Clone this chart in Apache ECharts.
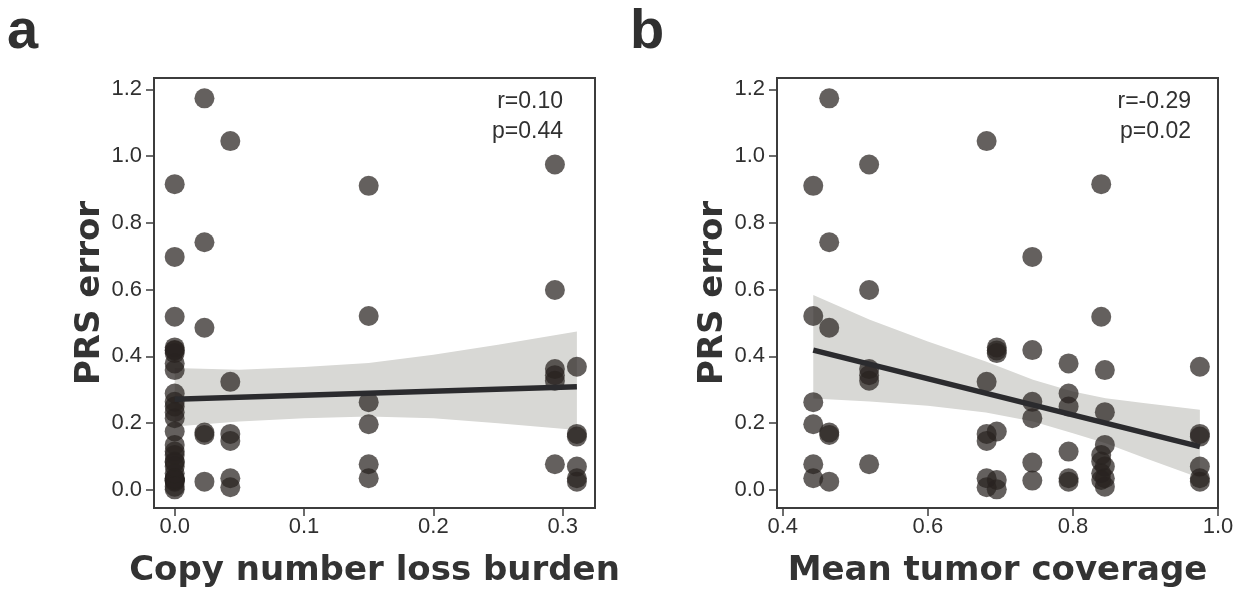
<!DOCTYPE html>
<html><head><meta charset="utf-8">
<script src="https://cdn.jsdelivr.net/npm/echarts@6/dist/echarts.min.js"></script>
<style>html,body{margin:0;padding:0;background:#fff}#c{width:1239px;height:594px}</style>
</head><body><div id="c"></div>
<script>
// ---- data ----
const patientCnlBurden = [0.150, 0.023, 0.294, 0.043, 0.311, 0.0, 0.0, 0.0, 0.0, 0.0];
const patientCoverage  = [0.442, 0.464, 0.519, 0.681, 0.975, 0.695, 0.744, 0.794, 0.839, 0.844];
const patientPrsError = [
  [0.911, 0.521, 0.263, 0.197, 0.077, 0.035],
  [1.173, 0.742, 0.486, 0.172, 0.165, 0.025],
  [0.975, 0.599, 0.362, 0.344, 0.327, 0.077],
  [1.045, 0.324, 0.168, 0.147, 0.035, 0.008],
  [0.369, 0.168, 0.160, 0.070, 0.035, 0.025],
  [0.427, 0.418, 0.410, 0.175, 0.030, 0.002],
  [0.698, 0.419, 0.264, 0.215, 0.082, 0.028],
  [0.379, 0.289, 0.250, 0.115, 0.035, 0.025],
  [0.916, 0.519, 0.105, 0.085, 0.050, 0.030],
  [0.359, 0.233, 0.135, 0.070, 0.035, 0.010]
];
const fitAX = [0, 0.311];
const fitAY = [0.272, 0.309];
const bandAX = [0, 0.05, 0.1, 0.15, 0.2, 0.25, 0.311];
const bandAUpper = [0.365, 0.360, 0.368, 0.380, 0.405, 0.435, 0.475];
const bandALower = [0.190, 0.205, 0.215, 0.220, 0.215, 0.200, 0.180];
const fitBX = [0.442, 0.975];
const fitBY = [0.419, 0.130];
const bandBX = [0.442, 0.52, 0.6, 0.68, 0.745, 0.8, 0.845, 0.9, 0.975];
const bandBUpper = [0.584, 0.510, 0.445, 0.385, 0.330, 0.295, 0.275, 0.260, 0.240];
const bandBLower = [0.274, 0.265, 0.252, 0.232, 0.205, 0.170, 0.140, 0.095, 0.036];
const yTicks = [0, 0.2, 0.4, 0.6, 0.8, 1.0, 1.2];
const aTicks = [0, 0.1, 0.2, 0.3];
const bTicks = [0.4, 0.6, 0.8, 1.0];
const statsA = ['r=0.10', 'p=0.44'];
const statsB = ['r=-0.29', 'p=0.02'];
const xNameA = 'Copy number loss burden';
const xNameB = 'Mean tumor coverage';
const yName = 'PRS error';

// ---- build ----
const ptsA = [], ptsB = [];
patientPrsError.forEach((arr, i) => arr.forEach(v => {
  ptsA.push([patientCnlBurden[i], v]);
  ptsB.push([patientCoverage[i], v]);
}));

const TXT = '#303030';
const FRAME = '#3c3c3c';
const tickFont = 'Liberation Sans';
const titleStyle = {fontFamily: 'DejaVu Sans', fontWeight: 'bold', fontSize: 34, color: '#333'};

function xAxisCfg(gi, min, max, ticks, name) {
  return {
    type: 'value', gridIndex: gi, min: min, max: max, name: name,
    nameLocation: 'middle', nameGap: 46, nameTextStyle: titleStyle,
    axisLine: {show: true, onZero: false, lineStyle: {color: FRAME, width: 2}},
    axisTick: {show: true, length: 8, customValues: ticks, lineStyle: {color: FRAME, width: 1.5}},
    axisLabel: {customValues: ticks, formatter: v => (+v).toFixed(1), fontSize: 22, color: TXT, fontFamily: tickFont, margin: 8},
    splitLine: {show: false}
  };
}
function yAxisCfg(gi) {
  return {
    type: 'value', gridIndex: gi, min: -0.054, max: 1.234, name: yName,
    nameLocation: 'middle', nameGap: 42, nameTextStyle: titleStyle,
    axisLine: {show: true, onZero: false, lineStyle: {color: FRAME, width: 2}},
    axisTick: {show: true, length: 8, customValues: yTicks, lineStyle: {color: FRAME, width: 1.5}},
    axisLabel: {customValues: yTicks, formatter: v => (+v).toFixed(1), fontSize: 22, color: TXT, fontFamily: tickFont, margin: 12},
    splitLine: {show: false}
  };
}
function bandSeries(xs, up, lo, gi) {
  return {
    type: 'custom', xAxisIndex: gi, yAxisIndex: gi, silent: true, z: 1,
    data: xs.map((x, i) => [x, up[i], lo[i]]),
    encode: {x: 0, y: [1, 2]},
    renderItem: function (params, api) {
      if (params.dataIndex !== 0) return null;
      const pts = [];
      for (let i = 0; i < xs.length; i++) pts.push(api.coord([xs[i], up[i]]));
      for (let i = xs.length - 1; i >= 0; i--) pts.push(api.coord([xs[i], lo[i]]));
      return {type: 'polygon', shape: {points: pts}, style: {fill: '#d8d8d5'}};
    }
  };
}
function scatterSeries(pts, gi) {
  return {type: 'scatter', xAxisIndex: gi, yAxisIndex: gi, data: pts, symbolSize: 20, z: 2,
    itemStyle: {color: 'rgba(40,34,32,0.9)'}, silent: true};
}
function fitSeries(xs, ys, gi) {
  return {type: 'line', xAxisIndex: gi, yAxisIndex: gi, data: xs.map((x, i) => [x, ys[i]]),
    showSymbol: false, symbol: 'none', z: 3, silent: true,
    lineStyle: {color: '#2b2b2e', width: 5.5, cap: 'butt'}};
}
function txt(x, y, s, font, align) {
  return {type: 'text', x: x, y: y, silent: true,
    style: {text: s, fill: TXT, font: font, align: align, verticalAlign: 'middle'}};
}

const chart = echarts.init(document.getElementById('c'), null, {renderer: 'canvas'});
chart.setOption({
  animation: false,
  backgroundColor: '#ffffff',
  grid: [
    {left: 154, top: 78, width: 441, height: 430, show: true, borderColor: FRAME, borderWidth: 2, containLabel: false},
    {left: 777, top: 78, width: 441, height: 430, show: true, borderColor: FRAME, borderWidth: 2, containLabel: false}
  ],
  xAxis: [xAxisCfg(0, -0.016, 0.325, aTicks, xNameA), xAxisCfg(1, 0.392, 1.0, bTicks, xNameB)],
  yAxis: [yAxisCfg(0), yAxisCfg(1)],
  series: [
    bandSeries(bandAX, bandAUpper, bandALower, 0),
    scatterSeries(ptsA, 0),
    fitSeries(fitAX, fitAY, 0),
    bandSeries(bandBX, bandBUpper, bandBLower, 1),
    scatterSeries(ptsB, 1),
    fitSeries(fitBX, fitBY, 1)
  ],
  graphic: [
    txt(7, 33, 'a', 'bold 56px "Liberation Sans"', 'left'),
    txt(630, 33, 'b', 'bold 56px "Liberation Sans"', 'left'),
    txt(563, 102, statsA[0], '23px "Liberation Sans"', 'right'),
    txt(563, 132, statsA[1], '23px "Liberation Sans"', 'right'),
    txt(1191, 102, statsB[0], '23px "Liberation Sans"', 'right'),
    txt(1191, 132, statsB[1], '23px "Liberation Sans"', 'right')
  ]
});
</script></body></html>
